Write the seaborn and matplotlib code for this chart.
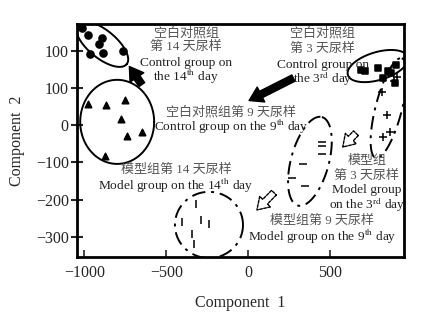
import numpy as np
import pandas as pd
import matplotlib
matplotlib.use("Agg")
import matplotlib.pyplot as plt
import seaborn as sns

# PCA scores (Component 1, Component 2)
ctrl14_x = [-1014, -978, -910, -892, -965, -886, -764]
ctrl14_y = [261, 242, 218, 234, 191, 194, 199]
ctrl9_x = [-980, -868, -750, -778, -739, -648, -874]
ctrl9_y = [57, 53, 68, 17, -28, -18, -83]
ctrl3_x = [689, 714, 793, 854, 903, 823, 897, 872]
ctrl3_y = [148, 146, 155, 146, 163, 127, 113, 140]
model3_x = [909, 891, 818, 848, 824, 866]
model3_y = [130, 119, 89, 28, -31, -18]
model9_x = [451, 451, 451, 335, 268, 347]
model9_y = [-45, -56, -77, -104, -142, -163]
model14_x = [-318, -403, -288, -239, -342, -330]
model14_y = [-211, -260, -254, -265, -292, -319]

xtick_values = [-1000, -500, 0, 500]
xtick_labels = ["\u22121000", "\u2212500", "0", "500"]
ytick_values = [200, 100, 0, -100, -200, -300]
ytick_labels = ["100", "100", "0", "\u2212100", "\u2212200", "\u2212300"]

sns.set_theme(style="ticks")
plt.rcParams["font.family"] = ["Liberation Serif", "Noto Sans CJK SC"]
plt.rcParams["mathtext.fontset"] = "stix"

df = pd.concat([
    pd.DataFrame({"c1": ctrl14_x, "c2": ctrl14_y, "group": "ctrl14"}),
    pd.DataFrame({"c1": ctrl9_x, "c2": ctrl9_y, "group": "ctrl9"}),
    pd.DataFrame({"c1": ctrl3_x, "c2": ctrl3_y, "group": "ctrl3"}),
    pd.DataFrame({"c1": model3_x, "c2": model3_y, "group": "model3"}),
    pd.DataFrame({"c1": model9_x, "c2": model9_y, "group": "model9"}),
    pd.DataFrame({"c1": model14_x, "c2": model14_y, "group": "model14"}),
])

markers = {"ctrl14": "o", "ctrl9": "^", "ctrl3": "s",
           "model3": "+", "model9": "_", "model14": "|"}
sizes = {"ctrl14": 26, "ctrl9": 22, "ctrl3": 16,
         "model3": 30, "model9": 30, "model14": 30}

fig = plt.figure(figsize=(4.38, 3.2), dpi=100)
ax = fig.add_axes([0.176, 0.197, 0.746, 0.728])

for name, sub in df.groupby("group"):
    sns.scatterplot(data=sub, x="c1", y="c2", marker=markers[name], s=sizes[name],
                    color="black", edgecolor="black", linewidth=1.1,
                    legend=False, ax=ax, zorder=3)


def draw_ellipse(ax, center, u, v, ls):
    t = np.linspace(0, 2 * np.pi, 300)
    ex = center[0] + u[0] * np.cos(t) + v[0] * np.sin(t)
    ey = center[1] + u[1] * np.cos(t) + v[1] * np.sin(t)
    ax.plot(ex, ey, color="black", lw=1.4, ls=ls)


dashdot = (0, (7, 3, 1.5, 3))
draw_ellipse(ax, (-892, 218), (150, -54), (-54, -29), "-")
draw_ellipse(ax, (-800, 9), (226, 0), (0, 113), "-")
draw_ellipse(ax, (793, 159), (183, 24), (24, -36), "-")
draw_ellipse(ax, (860, 46), (79, 134), (78, -9), dashdot)
draw_ellipse(ax, (378, -97), (73, 119), (112, -13), dashdot)
draw_ellipse(ax, (-239, -268), (208, 0), (0, 89), dashdot)

# arrows
solid = dict(arrowstyle="simple,head_length=0.8,head_width=1.0,tail_width=0.42",
             fc="black", ec="black", mutation_scale=12)
hollow = dict(arrowstyle="simple,head_length=0.7,head_width=0.9,tail_width=0.4",
              fc="white", ec="black", lw=1.0, ls=(0, (2, 1)), mutation_scale=12)
ax.annotate("", xy=(-735, 164), xytext=(-640, 103), arrowprops=solid)
ax.annotate("", xy=(-9, 63), xytext=(292, 130), arrowprops=solid)
ax.annotate("", xy=(567, -64), xytext=(671, -16), arrowprops=hollow)
ax.annotate("", xy=(42, -233), xytext=(170, -176), arrowprops=hollow)


def caption(x, lines, ys):
    for line, y in zip(lines, ys):
        if line.isascii():
            ax.text(x, y, line, ha="center", va="center", fontsize=9.6, color="#222222")
        else:
            ax.text(x, y, line, ha="center", va="center", fontsize=9.4,
                    color="#555555", fontweight="light")


caption(-379, ["空白对照组", "第 14 天尿样", "Control group on",
               "the 14$^{\\mathrm{th}}$ day"], [248, 210, 167, 130])
caption(457, ["空白对照组", "第 3 天尿样", "Control group on",
              "the 3$^{\\mathrm{rd}}$ day"], [248, 205, 162, 124])
caption(-104, ["空白对照组第 9 天尿样", "Control group on the 9$^{\\mathrm{th}}$ day"], [35, -5])
caption(-441, ["模型组第 14 天尿样", "Model group on the 14$^{\\mathrm{th}}$ day"], [-121, -164])
caption(725, ["模型组", "第 3 天尿样", "Model group",
              "on the 3$^{\\mathrm{rd}}$ day"], [-96, -135, -175, -213])
caption(452, ["模型组第 9 天尿样", "Model group on the 9$^{\\mathrm{th}}$ day"], [-257, -301])

ax.set_xlim(-1045, 952)
ax.set_ylim(-354, 272)
ax.set_xticks(xtick_values)
ax.set_xticklabels(xtick_labels)
ax.set_yticks(ytick_values)
ax.set_yticklabels(ytick_labels)
ax.tick_params(axis="x", direction="in", length=5, width=1.2, labelsize=11.5, pad=6)
ax.tick_params(axis="y", direction="inout", length=8, width=1.5, labelsize=11.5, pad=2)
for s in ax.spines.values():
    s.set_linewidth(2)
    s.set_color("black")

ax.set_xlabel("Component  1", fontsize=11.5, labelpad=10)
ax.set_ylabel("Component  2", fontsize=11.5, labelpad=8)

fig.savefig("out.png", dpi=100, facecolor="white")
